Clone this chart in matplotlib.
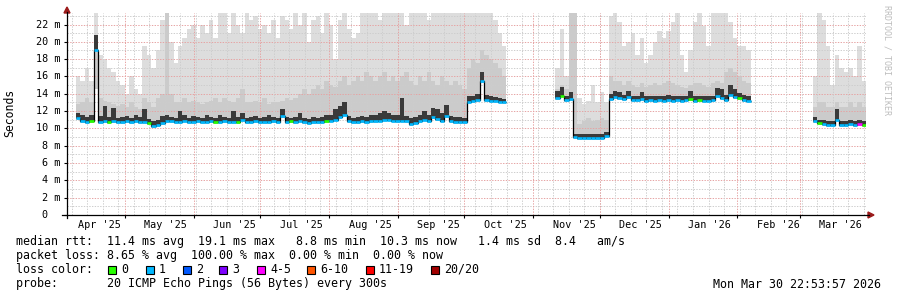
import datetime as dt
import numpy as np
import matplotlib
matplotlib.use("Agg")
import matplotlib.pyplot as plt
import matplotlib.dates as mdates
from matplotlib import transforms
from matplotlib.lines import Line2D
from matplotlib.patches import Rectangle, Polygon

# ---------------------------------------------------------------- data
t_end = dt.datetime(2026, 3, 30, 22, 53, 57)
t_start = t_end - dt.timedelta(days=360)
bin_days = 2

# segment A : Apr -> Oct 2025 (bins of 2 days counted from t_start)
segA_start = 2
segA_median = [11.2, 10.8, 10.7, 10.8, 19.1,
               10.7, 10.8, 10.7, 10.8, 10.7, 10.7, 10.8, 10.7, 10.8, 10.7, 10.7, 10.6, 10.3, 10.4, 10.6,
               10.8,
               10.8, 10.7, 10.7, 10.9, 10.7, 10.7, 10.8, 10.7, 10.7, 10.8,
               10.7, 10.7, 10.8, 10.7, 10.7, 10.7, 11.0, 10.7, 10.7, 10.8,
               10.7, 10.7, 10.7, 10.8, 10.7, 11.4, 10.7, 10.8, 10.7, 10.9,
               10.7, 10.6, 10.7, 10.7, 10.7, 10.8, 10.9, 11.0, 11.3, 11.6,
               10.8, 10.7, 10.7, 10.8, 10.7, 10.8, 10.8, 10.9, 11.0, 11.0,
               10.9, 10.8, 10.9, 10.8, 10.5, 10.6, 10.8, 11.0, 10.8, 11.3,
               11.1, 10.9, 11.4, 10.8, 10.7, 10.7, 10.7,
               13.1, 13.2, 13.3, 15.5, 13.3, 13.2, 13.2, 13.1, 13.0]
segA_dark = [11.8, 11.5, 11.3, 11.6, 20.8,
             11.4, 12.6, 11.3, 12.4, 11.2, 11.3, 11.4, 11.2, 11.6, 11.3, 12.3, 11.1, 10.8, 11.0, 11.4,
             11.6,
             11.3, 11.2, 12.0, 11.6, 11.2, 11.4, 11.3, 11.2, 11.5, 11.3,
             11.2, 11.6, 11.3, 11.2, 12.0, 11.3, 11.8, 11.2, 11.3, 11.4,
             11.2, 11.3, 11.6, 11.3, 11.2, 12.2, 11.3, 11.2, 11.3, 11.8,
             11.2, 11.1, 11.3, 11.2, 11.3, 11.5, 11.6, 12.2, 12.6, 13.0,
             11.4, 11.2, 11.3, 11.4, 11.3, 11.5, 11.6, 11.8, 12.0, 11.8,
             11.6, 11.5, 13.5, 11.4, 11.2, 11.3, 11.6, 12.0, 11.6, 12.4,
             12.3, 11.8, 12.7, 11.4, 11.3, 11.3, 11.2,
             13.8, 13.7, 14.0, 16.5, 13.9, 13.7, 13.6, 13.5, 13.4]
segA_mid = [12.8, 13.0, 13.5, 13.0, 14.5,
            13.5, 13.2, 13.0, 12.8, 12.6, 12.8, 12.5, 13.0, 12.5, 12.3, 13.5, 13.0, 12.5, 13.5, 14.0,
            23.3,
            14.0, 13.0, 13.0, 13.5, 13.0, 13.2, 13.0, 12.8, 13.0, 13.2,
            13.5, 13.0, 13.5, 13.2, 13.0, 13.5, 14.5, 13.0, 13.0, 13.2,
            13.0, 13.5, 12.8, 13.0, 13.0, 13.2, 13.5, 13.3, 13.5, 14.0,
            14.5, 14.0, 14.5, 15.0, 14.5, 15.5, 15.0, 14.8, 15.5, 16.0,
            15.0, 15.5, 16.0, 15.5, 16.5, 16.0, 15.5, 16.0, 16.5, 15.5,
            16.0, 15.5, 16.0, 16.5, 15.5, 15.0, 16.0, 15.5, 16.5, 15.5,
            15.0, 16.0, 15.5, 15.0, 15.5, 15.0, 14.5,
            17.0, 18.0, 17.5, 19.0, 18.5, 18.0, 17.5, 17.0, 16.0]
segA_top = [16.0, 15.5, 17.0, 15.5, 23.3,
            18.5, 18.0, 17.0, 16.5, 15.5, 15.0, 14.0, 16.0, 14.5, 14.0, 19.5, 18.5, 17.0, 19.0, 22.5,
            23.3,
            20.0, 17.5, 19.5, 20.5, 21.5, 22.0, 20.5, 22.0, 21.0, 22.5,
            20.5, 23.3, 23.3, 21.0, 23.3, 22.0, 21.0, 23.3, 22.5, 23.0,
            21.5, 22.0, 21.0, 22.5, 20.5, 23.0, 22.5, 21.5, 23.3, 22.0,
            23.3, 20.0, 22.5, 23.0, 21.0, 23.3, 22.0, 18.0, 22.5, 23.3,
            21.5, 20.5, 21.0, 23.3, 23.3, 23.3, 23.3, 22.5, 23.3, 23.3,
            23.3, 23.3, 23.3, 22.0, 23.3, 23.3, 23.3, 23.3, 22.5, 23.3,
            23.3, 23.3, 23.3, 23.3, 23.3, 23.3, 23.3,
            23.3, 23.3, 23.3, 23.3, 23.3, 23.3, 22.5, 21.0, 19.5]
segA_loss = [1, 1, 1, 0, 1, 1, 1, 0, 1, 1,
             1, 1, 1, 1, 1, 1, 0, 1, 1, 1,
             1, 1, 1, 1, 1, 1, 1, 1, 1, 1,
             1, 0, 1, 1, 1, 1, 0, 1, 1, 1,
             1, 1, 1, 1, 1, 1, 1, 1, 0, 1,
             1, 1, 1, 1, 1, 1, 0, 1, 1, 1,
             1, 1, 1, 1, 1, 1, 1, 1, 1, 1,
             1, 1, 1, 1, 1, 1, 1, 1, 1, 1,
             1, 1, 1, 1, 1, 1, 1, 1, 1, 1,
             1, 1, 1, 1, 1, 1, 1]

# segment B : Nov 2025 -> Feb 2026
segB_start = 110
segB_median = [13.5, 13.8, 13.3, 13.4,
               9.0, 8.9, 8.9, 8.9, 8.9, 8.9, 8.9, 9.1,
               13.4, 13.6, 13.5, 13.4, 13.6, 13.3, 13.3, 13.4, 13.2, 13.3,
               13.2, 13.3, 13.2, 13.3, 13.2, 13.3, 13.2, 13.3, 13.4, 13.2,
               13.3, 13.2, 13.2, 13.3, 13.7, 13.5, 13.3, 13.9, 13.6, 13.5,
               13.3, 13.2]
segB_dark = [14.3, 14.8, 13.8, 14.2,
             9.4, 9.3, 9.3, 9.4, 9.3, 9.4, 9.3, 9.6,
             14.0, 14.3, 14.2, 13.9, 14.3, 13.8, 13.8, 14.2, 13.7, 13.8,
             13.7, 13.8, 13.7, 13.9, 13.8, 13.7, 13.8, 13.7, 14.3, 13.7,
             13.8, 13.7, 13.7, 13.8, 14.7, 14.5, 13.9, 15.0, 14.5, 14.1,
             13.9, 13.7]
segB_mid = [14.5, 15.0, 14.5, 23.3,
            23.3, 10.5, 10.8, 11.2, 10.8, 11.0, 11.2, 11.0,
            16.0, 15.5, 15.5, 15.0, 15.5, 15.0, 14.8, 15.2, 14.8, 15.0,
            15.2, 15.0, 15.3, 15.5, 15.2, 15.0, 14.8, 14.7, 15.0, 15.2,
            15.3, 15.0, 14.8, 15.2, 15.5, 15.3, 16.5, 17.0, 16.5, 16.0,
            15.5, 15.2]
segB_top = [17.0, 21.5, 16.0, 23.3,
            23.3, 13.5, 12.8, 13.2, 15.0, 13.0, 14.2, 13.0,
            23.0, 23.3, 22.3, 19.5, 20.0, 21.0, 18.5, 20.5, 17.5, 18.5,
            20.0, 21.2, 20.5, 21.2, 22.3, 23.3, 18.5, 16.5, 19.0, 22.3,
            23.3, 21.8, 19.5, 23.3, 23.3, 23.3, 23.3, 22.3, 20.5, 19.5,
            19.5, 19.0]
segB_loss = [1, 0, 1, 1, 1, 1, 1, 1, 1, 1,
             1, 1, 1, 1, 1, 1, 1, 1, 1, 1,
             1, 1, 1, 1, 1, 1, 1, 1, 1, 1,
             0, 1, 0, 1, 1, 1, 1, 1, 1, 1,
             1, 0, 1, 1]

# segment C : Mar 2026
segC_start = 168
segC_median = [10.8, 10.6, 10.5, 10.4, 10.4, 11.0, 10.4, 10.4, 10.5, 10.4, 10.5, 10.4]
segC_dark = [11.3, 11.0, 11.0, 10.9, 10.9, 12.3, 10.9, 10.9, 11.0, 10.9, 11.0, 10.9]
segC_mid = [12.5, 13.0, 13.0, 12.5, 12.5, 13.0, 12.5, 12.5, 13.0, 12.5, 13.0, 12.5]
segC_top = [16.0, 23.3, 22.5, 19.5, 15.0, 18.5, 17.0, 16.5, 17.0, 16.0, 19.5, 15.5]
segC_loss = [1, 0, 1, 1, 1, 1, 1, 1, 1, 1, 4, 0]

loss_labels = ["0", "1", "2", "3", "4-5", "6-10", "11-19", "20/20"]
loss_colors = ["#26ff00", "#00b8ff", "#0059ff", "#7e00ff", "#ff00ff", "#ff5500", "#ff0000", "#a10000"]

y_ticks = [0, 2, 4, 6, 8, 10, 12, 14, 16, 18, 20, 22]
month_labels = ["Apr '25", "May '25", "Jun '25", "Jul '25", "Aug '25", "Sep '25",
                "Oct '25", "Nov '25", "Dec '25", "Jan '26", "Feb '26", "Mar '26"]
month_starts = [dt.datetime(2025, m, 1) for m in range(4, 13)] + \
               [dt.datetime(2026, m, 1) for m in range(1, 4)]

line_rtt = "median rtt:  11.4 ms avg  19.1 ms max   8.8 ms min  10.3 ms now   1.4 ms sd  8.4   am/s"
line_loss = "packet loss: 8.65 % avg  100.00 % max  0.00 % min  0.00 % now"
line_probe = "probe:       20 ICMP Echo Pings (56 Bytes) every 300s"
stamp = "Mon Mar 30 22:53:57 2026"

# ---------------------------------------------------------------- figure
plt.rcParams["font.family"] = ["DejaVu Sans Mono"]
W, H = 897, 297
fig = plt.figure(figsize=(W / 100, H / 100), dpi=100)
fig.patch.set_facecolor("white")

X0, X1, Y0, Y1 = 67, 866, 215, 13
ax = fig.add_axes([X0 / W, 1 - Y0 / H, (X1 - X0) / W, (Y0 - Y1) / H])
ax.set_facecolor("white")
ax.set_xlim(mdates.date2num(t_start), mdates.date2num(t_end))
ax.set_ylim(0, 23.33)
for s in ax.spines.values():
    s.set_visible(False)

LIGHT, MID, DARK = "#dddddd", "#cbcbcb", "#3a3a3a"

segments = [
    (segA_start, segA_median, segA_dark, segA_mid, segA_top, segA_loss),
    (segB_start, segB_median, segB_dark, segB_mid, segB_top, segB_loss),
    (segC_start, segC_median, segC_dark, segC_mid, segC_top, segC_loss),
]
for start, med, dark, mid, top, loss in segments:
    n = len(med)
    edges = mdates.date2num([t_start + dt.timedelta(days=bin_days * (start + k)) for k in range(n + 1)])
    med = np.asarray(med, float)
    base = med - 0.2
    ax.stairs(np.asarray(top), edges, baseline=base, fill=True, color=LIGHT, lw=0, zorder=1)
    ax.stairs(np.asarray(mid), edges, baseline=base, fill=True, color=MID, lw=0, zorder=2)
    ax.stairs(np.asarray(dark), edges, baseline=med, fill=True, color=DARK, lw=0, zorder=4)
    ax.stairs(med, edges, baseline=None, color="black", lw=0.9, zorder=5)
    ax.hlines(med, edges[:-1], edges[1:], colors=[loss_colors[c] for c in loss], lw=1.9, zorder=6)

# grid
GRAY, RED = "#cdcdcd", "#e6a3a3"
dots = (0, (1.4, 1.4))
for v in range(1, 24):
    ax.axhline(v, color=RED if v % 2 == 0 else GRAY, ls=dots, lw=0.7, zorder=3)
wk = dt.datetime(2025, 4, 7)
while wk < t_end:
    ax.axvline(mdates.date2num(wk), color=GRAY, ls=dots, lw=0.7, zorder=3)
    wk += dt.timedelta(days=7)
in_range = [m for m in month_starts if m > t_start]
for m in in_range:
    ax.axvline(mdates.date2num(m), color=RED, ls=dots, lw=0.7, zorder=3)

# ticks
ax.set_xticks(mdates.date2num(in_range))
ax.set_xticklabels([])
ax.set_yticks(y_ticks)
ax.set_yticklabels([])
ax.tick_params(axis="both", length=2.3, width=0.8, color="black", direction="out")

lab_tr = transforms.offset_copy(ax.get_xaxis_transform(), fig=fig, x=0, y=-10, units="dots")
for m, lab in zip(month_starts, month_labels):
    ax.text(mdates.date2num(m + dt.timedelta(days=18.5)), 0, lab, transform=lab_tr,
            ha="center", va="center", fontsize=7.3, clip_on=False)
ytr = transforms.offset_copy(ax.get_yaxis_transform(), fig=fig, x=-7, y=0, units="dots")
ytr0 = transforms.offset_copy(ax.get_yaxis_transform(), fig=fig, x=-19, y=0, units="dots")
for v in y_ticks:
    ax.text(0, v, f"{v} m" if v else "0", transform=ytr if v else ytr0,
            ha="right", va="center", fontsize=7.3, clip_on=False)

# axes lines and arrows
def fp(x, y):
    return x / W, 1 - y / H

ARROW = "#9b1b1b"
fig.add_artist(Line2D(*zip(fp(62, Y0), fp(869, Y0)), color="black", lw=0.9, transform=fig.transFigure))
fig.add_artist(Line2D(*zip(fp(X0, 218), fp(X0, 12)), color="black", lw=0.9, transform=fig.transFigure))
fig.add_artist(Polygon([fp(868, 212), fp(868, 218), fp(874, 215)], closed=True, color=ARROW,
                       transform=fig.transFigure))
fig.add_artist(Polygon([fp(64, 13), fp(70, 13), fp(67, 7)], closed=True, color=ARROW,
                       transform=fig.transFigure))

# texts
fig.text(*fp(10, 113), "Seconds", rotation=90, ha="center", va="center", fontsize=8.3)
fig.text(*fp(887, 60), "RRDTOOL / TOBI OETIKER", rotation=270, ha="center", va="center",
         fontsize=6, color="#bdbdbd")
fig.text(*fp(16, 241), line_rtt, ha="left", va="center", fontsize=8.4)
fig.text(*fp(16, 255.5), line_loss, ha="left", va="center", fontsize=8.4)
fig.text(*fp(16, 269.5), "loss color:", ha="left", va="center", fontsize=8.4)
box_x = [108, 146, 183, 219, 257, 307, 366, 431]
for bx, lab, col in zip(box_x, loss_labels, loss_colors):
    fig.add_artist(Rectangle(fp(bx, 273.5), 8 / W, 8 / H, facecolor=col, edgecolor="black",
                             lw=0.8, transform=fig.transFigure))
    fig.text(*fp(bx + 13, 269.5), lab, ha="left", va="center", fontsize=8.4)
fig.text(*fp(16, 284), line_probe, ha="left", va="center", fontsize=8.4)
fig.text(*fp(881, 284), stamp, ha="right", va="center", fontsize=8.4)

fig.savefig("out.png", dpi=100, facecolor="white")
